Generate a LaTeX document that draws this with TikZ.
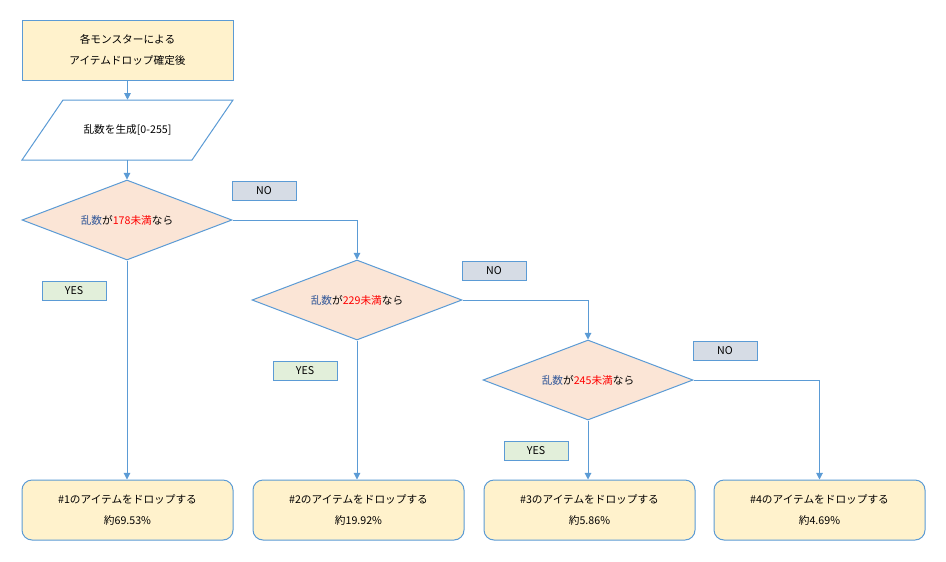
\documentclass[tikz,border=0pt]{standalone}
\usepackage{fontspec}
\setmainfont{Noto Sans CJK JP}
\usetikzlibrary{shapes.geometric,arrows.meta}
\definecolor{lineblue}{HTML}{5B9BD5}
\definecolor{startfill}{HTML}{FFF2CC}
\definecolor{condfill}{HTML}{FBE5D6}
\definecolor{nofill}{HTML}{D6DCE5}
\definecolor{yesfill}{HTML}{E2EFDA}
\definecolor{varblue}{HTML}{2F5597}
\tikzset{
  every node/.style={font=\fontsize{8pt}{16pt}\selectfont, text=black},
  startbox/.style={draw=lineblue, fill=startfill, line width=0.75pt, minimum width=158.25pt, minimum height=45pt, align=center, inner sep=0pt},
  inputbox/.style={minimum width=158.25pt, minimum height=45pt, inner sep=0pt},
  condbox/.style={diamond, aspect=2.625, draw=lineblue, fill=condfill, line width=0.75pt, minimum width=157.5pt, minimum height=60pt, inner sep=0pt},
  resultbox/.style={draw=lineblue, fill=startfill, rounded corners=7.5pt, line width=0.75pt, minimum width=158.25pt, minimum height=45pt, align=center, inner sep=0pt},
  nolabel/.style={draw=lineblue, fill=nofill, line width=0.75pt, minimum width=48pt, minimum height=14.25pt, inner sep=0pt},
  yeslabel/.style={draw=lineblue, fill=yesfill, line width=0.75pt, minimum width=48pt, minimum height=14.25pt, inner sep=0pt},
  flow/.style={draw=lineblue, line width=0.75pt, -{Triangle[length=5pt,width=5pt]}}
}
\newcommand{\cond}[1]{\textcolor{varblue}{乱数}が\textcolor{red}{#1未満}なら}
\begin{document}
\begin{tikzpicture}[x=0.75pt,y=-0.75pt]
        \useasboundingbox (0,0) rectangle (946,561);
        \node[startbox] (start) at (127.5,50) {各モンスターによる\\アイテムドロップ確定後};
        % input parallelogram
        \draw[draw=lineblue, fill=white, line width=0.75pt] (63,100) -- (233,100) -- (192,160) -- (22,160) -- cycle;
        \node[inputbox] (rand) at (127.5,130) {乱数を生成[0-255]};
        \node[condbox] (c1) at (127,220) {\cond{178}};
        \node[condbox] (c2) at (357,300) {\cond{229}};
        \node[condbox] (c3) at (588,380) {\cond{245}};
        \node[resultbox] (r1) at (127.5,510) {\#1のアイテムをドロップする\\約69.53\%};
        \node[resultbox] (r2) at (358.5,510) {\#2のアイテムをドロップする\\約19.92\%};
        \node[resultbox] (r3) at (589.5,510) {\#3のアイテムをドロップする\\約5.86\%};
        \node[resultbox] (r4) at (819.5,510) {\#4のアイテムをドロップする\\約4.69\%};

        \node[nolabel] (no1) at (264,190.5) {NO};
        \node[nolabel] (no2) at (494,270.5) {NO};
        \node[nolabel] (no3) at (725,350.5) {NO};
        \node[yeslabel] (yes1) at (74,290.5) {YES};
        \node[yeslabel] (yes2) at (305,370.5) {YES};
        \node[yeslabel] (yes3) at (536,450.5) {YES};

        \path[flow] (start) -- (rand);
        \path[flow] (rand.south -| c1.north) -- (c1.north);
        \path[flow] (c1) -- (r1.north -| c1);
        \path[flow] (c1.east) -| (c2.north);
        \path[flow] (c2) -- (r2.north -| c2);
        \path[flow] (c2.east) -| (c3.north);
        \path[flow] (c3) -- (r3.north -| c3);
        \path[flow] (c3.east) -| (r4.north);
\end{tikzpicture}
\end{document}
